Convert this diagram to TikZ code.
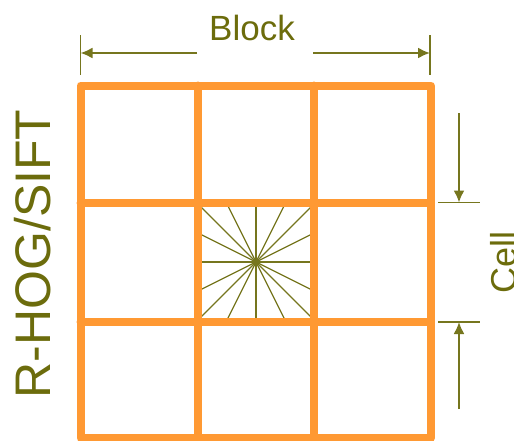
\documentclass[tikz,border=0pt]{standalone}
\usepackage{fontspec}
\setmainfont{Liberation Sans}
\usetikzlibrary{arrows.meta,calc}
\definecolor{gridorange}{RGB}{255,153,51}
\definecolor{olivetext}{RGB}{108,108,12}
\definecolor{oliveline}{RGB}{118,118,30}
\tikzset{
  gridline/.style={draw=gridorange, line width=8pt, line join=round, line cap=round},
  dimline/.style={draw=oliveline, line width=2pt, -{Latex[length=12pt,width=11pt]}},
  tickline/.style={draw=oliveline, line width=1.6pt},
  rayline/.style={draw=oliveline, line width=1.3pt},
  lbl/.style={text=olivetext, inner sep=0pt, outer sep=0pt}
}
\begin{document}
\begin{tikzpicture}[x=1pt,y=-1pt]
\useasboundingbox (0,0) rectangle (514,440);
\coordinate (c) at (256,262);
% star rays in centre cell
\foreach \dx/\dy in {1/0,1/0.5,1/1,0.5/1,0/1,-0.5/1,-1/1,-1/0.5,-1/0,-1/-0.5,-1/-1,-0.5/-1,0/-1,0.5/-1,1/-1,1/-0.5}
  \draw[rayline] (c) -- ($(c)+(58.5*\dx,58.5*\dy)$);
\fill[oliveline] (c) circle (2.5pt);
% grid
\draw[gridline] (80.5,85.5) rectangle (431,438);
\draw[gridline] (197.5,85.5) -- (197.5,438);
\draw[gridline] (314,85.5) -- (314,438);
\draw[gridline] (80.5,203) -- (431,203);
\draw[gridline] (80.5,321.5) -- (431,321.5);
% Block dimension
\coordinate (bl) at (80.5,53);
\coordinate (br) at (430,53);
\coordinate (blin) at (197,53);
\coordinate (brin) at (313,53);
\draw[tickline] (80.5,35) -- (80.5,75);
\draw[tickline] (430,35) -- (430,75);
\draw[dimline] (blin) -- (bl);
\draw[dimline] (brin) -- (br);
\node[lbl, font=\fontsize{35}{42}\selectfont, anchor=base] (block) at (252,40) {Block};
% Cell dimension
\coordinate (ct) at (459,202.5);
\coordinate (cb) at (459,322);
\coordinate (ctout) at (459,113);
\coordinate (cbout) at (459,409);
\draw[tickline] (438,202.5) -- (480,202.5);
\draw[tickline] (438,322) -- (480,322);
\draw[dimline] (ctout) -- (ct);
\draw[dimline] (cbout) -- (cb);
\node[lbl, font=\fontsize{36}{43}\selectfont, rotate=90, anchor=base] (cell) at (516,262) {Cell};
% side label
\node[lbl, font=\fontsize{50}{60}\selectfont, rotate=90, anchor=base] (rhog) at (50,254) {R-HOG/SIFT};
\end{tikzpicture}
\end{document}
